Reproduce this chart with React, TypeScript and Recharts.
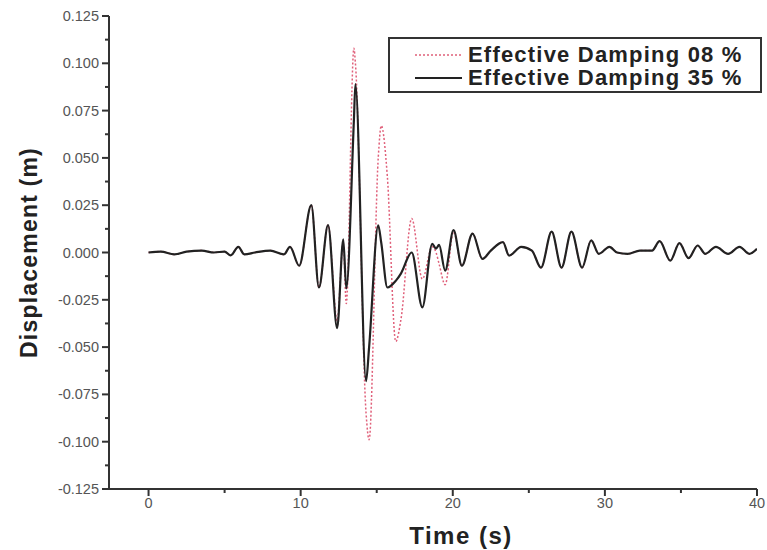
import React from 'react';
import { LineChart, Line, XAxis, YAxis, Legend } from 'recharts';

// Time (s)
const time = [
  0, 0.8, 1.7, 2.5, 3.5, 4.3, 5.0, 5.4, 5.9, 6.3, 7.0, 8.0, 8.9, 9.3, 9.9,
  10.7, 11.2, 11.8, 12.4, 12.8, 13.0, 13.5, 13.6, 14.3, 14.5, 15.1, 15.3, 15.7,
  16.25, 16.6, 17.3, 18.0, 18.65, 18.9, 19.1, 19.5, 20.05, 20.6, 21.3, 21.95,
  22.5, 23.3, 23.7, 24.5, 25.2, 25.8, 26.5, 27.15, 27.8, 28.5, 29.1, 29.6,
  30.3, 30.8, 31.5, 32.3, 33.1, 33.6, 34.3, 34.9, 35.5, 36.1, 36.6, 37.3,
  38.1, 38.85, 39.5, 40.0,
];

// Displacement (m), effective damping 8 %
const disp08 = [
  0, 0.0005, -0.001, 0.0005, 0.001, 0, 0.0005, -0.0015, 0.003, -0.001, 0, 0.001, -0.001, 0.003, -0.007,
  0.025, -0.0185, 0.0145, -0.036, 0.005, -0.027, 0.108, 0.1, -0.085, -0.099, 0.05, 0.067, 0.04,
  -0.047, -0.035, 0.018, -0.014, 0.003, 0.0, -0.006, -0.017, 0.011, -0.007, 0.01, -0.0034,
  0.001, 0.0055, -0.0016, 0.003, 0.001, -0.008, 0.011, -0.008, 0.011, -0.008, 0.0064, -0.0007,
  0.003, 0, -0.0007, 0.001, 0.001, 0.006, -0.0043, 0.005, -0.003, 0.0037, -0.0007, 0.003,
  -0.0007, 0.003, -0.0007, 0.002,
];

// Displacement (m), effective damping 35 %
const disp35 = [
  0, 0.0005, -0.001, 0.0005, 0.001, 0, 0.0005, -0.0015, 0.003, -0.001, 0, 0.001, -0.001, 0.003, -0.007,
  0.025, -0.0185, 0.0145, -0.04, 0.007, -0.019, 0.07, 0.089, -0.068, -0.05, 0.0144, 0.005, -0.0185,
  -0.015, -0.011, 0.0, -0.029, 0.0046, 0.002, 0.004, -0.0096, 0.0118, -0.007, 0.01, -0.0034,
  0.001, 0.0055, -0.0016, 0.003, 0.001, -0.008, 0.011, -0.008, 0.011, -0.008, 0.0064, -0.0007,
  0.003, 0, -0.0007, 0.001, 0.001, 0.006, -0.0043, 0.005, -0.003, 0.0037, -0.0007, 0.003,
  -0.0007, 0.003, -0.0007, 0.002,
];

const seriesNames = ['Effective Damping 08 %', 'Effective Damping 35 %'];

const xTicks = [0, 5, 10, 15, 20, 25, 30, 35, 40];
const xLabelTicks = [0, 10, 20, 30, 40];
const yTicks = [
  -0.125, -0.1125, -0.1, -0.0875, -0.075, -0.0625, -0.05, -0.0375, -0.025, -0.0125, 0,
  0.0125, 0.025, 0.0375, 0.05, 0.0625, 0.075, 0.0875, 0.1, 0.1125, 0.125,
];
const yLabelTicks = [-0.125, -0.1, -0.075, -0.05, -0.025, 0, 0.025, 0.05, 0.075, 0.1, 0.125];

const data = time.map((t, i) => ({ t, d08: disp08[i], d35: disp35[i] }));

const FONT = '"Liberation Sans", Arial, sans-serif';
const AXIS = '#333';
const TICK_TEXT = '#555';
const TICK_SIZE = 7;
const TICK_MARGIN = 3;

const isLabelTick = (list: number[], v: number) => list.some((l) => Math.abs(l - v) < 1e-9);

const XTick = (props: any) => {
  const { x, y, payload } = props;
  const axisY = y - TICK_SIZE - TICK_MARGIN;
  const major = isLabelTick(xLabelTicks, payload.value);
  return (
    <g>
      <line x1={x} x2={x} y1={axisY} y2={axisY + (major ? 7 : 4)} stroke={AXIS} strokeWidth={2} />
      {major && (
        <text x={x} y={axisY + 19} textAnchor="middle" fontFamily={FONT} fontSize={14.5} fill={TICK_TEXT}>
          {payload.value}
        </text>
      )}
    </g>
  );
};

const YTick = (props: any) => {
  const { x, y, payload } = props;
  const axisX = x + TICK_SIZE + TICK_MARGIN;
  const major = isLabelTick(yLabelTicks, payload.value);
  return (
    <g>
      <line x1={axisX - (major ? 7 : 4)} x2={axisX} y1={y} y2={y} stroke={AXIS} strokeWidth={2} />
      {major && (
        <text x={axisX - 10} y={y} dy={5} textAnchor="end" fontFamily={FONT} fontSize={14.5} fill={TICK_TEXT}>
          {payload.value.toFixed(3)}
        </text>
      )}
    </g>
  );
};

const LegendBox = (props: any) => {
  const { payload } = props;
  return (
    <div
      style={{
        border: '2px solid #333',
        background: '#fff',
        width: 374,
        height: 56,
        boxSizing: 'border-box',
        paddingTop: 4,
        paddingLeft: 25,
      }}
    >
      {(payload || []).map((entry: any, i: number) => {
        const dashed = entry.dataKey === 'd08';
        return (
          <div key={i} style={{ display: 'flex', alignItems: 'center', height: 23 }}>
            <svg width={53} height={10} style={{ flex: 'none' }}>
              <line
                x1={0}
                x2={47}
                y1={5}
                y2={5}
                stroke={entry.color}
                strokeWidth={dashed ? 1.5 : 2}
                strokeDasharray={dashed ? '2 2' : undefined}
              />
            </svg>
            <span
              style={{
                fontFamily: FONT,
                fontWeight: 'bold',
                fontSize: 22,
                letterSpacing: 1.2,
                color: '#222',
                whiteSpace: 'nowrap',
              }}
            >
              {entry.value}
            </span>
          </div>
        );
      })}
    </div>
  );
};

export default function App() {
  return (
    <div style={{ position: 'absolute', left: 0, top: 0, width: 767, height: 550, background: '#fff' }}>
      <LineChart width={767} height={550} data={data} margin={{ top: 16, right: 10, left: 0, bottom: 0 }}>
        <XAxis
          dataKey="t"
          type="number"
          domain={[-2.6, 40]}
          ticks={xTicks}
          interval={0}
          allowDataOverflow
          height={61}
          stroke={AXIS}
          strokeWidth={2}
          tickLine={false}
          tickSize={TICK_SIZE}
          tickMargin={TICK_MARGIN}
          tick={(p: any) => <XTick {...p} />}
          label={{
            value: 'Time (s)',
            position: 'insideBottom',
            offset: 6,
            dx: 28,
            style: { fontFamily: FONT, fontWeight: 'bold', fontSize: 24, letterSpacing: 1.5, fill: '#222' },
          }}
        />
        <YAxis
          type="number"
          domain={[-0.125, 0.125]}
          ticks={yTicks}
          interval={0}
          allowDataOverflow
          width={109}
          stroke={AXIS}
          strokeWidth={2}
          tickLine={false}
          tickSize={TICK_SIZE}
          tickMargin={TICK_MARGIN}
          tick={(p: any) => <YTick {...p} />}
          label={{
            value: 'Displacement (m)',
            angle: -90,
            position: 'center',
            dx: -26,
            style: {
              fontFamily: FONT,
              fontWeight: 'bold',
              fontSize: 23,
              letterSpacing: 1.2,
              fill: '#222',
              textAnchor: 'middle',
            },
          }}
        />
        <Legend
          layout="vertical"
          align="center"
          verticalAlign="middle"
          content={(p: any) => <LegendBox {...p} />}
          wrapperStyle={{ position: 'absolute', left: 388, top: 37, width: 374, height: 56 }}
        />
        <Line
          type="monotone"
          dataKey="d08"
          name={seriesNames[0]}
          stroke="#e0607a"
          strokeWidth={1.5}
          strokeDasharray="2 2"
          dot={false}
          isAnimationActive={false}
        />
        <Line
          type="monotone"
          dataKey="d35"
          name={seriesNames[1]}
          stroke="#222"
          strokeWidth={2.2}
          dot={false}
          isAnimationActive={false}
        />
      </LineChart>
    </div>
  );
}
